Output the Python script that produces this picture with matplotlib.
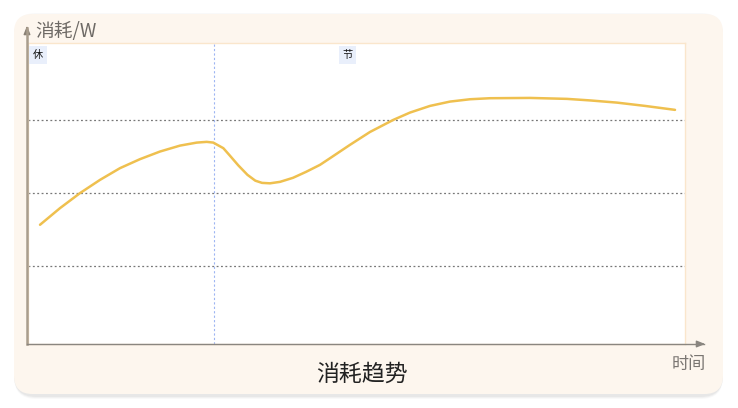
import matplotlib.pyplot as plt
from matplotlib.patches import FancyBboxPatch

plt.rcParams['font.family'] = ['Noto Sans CJK SC', 'DejaVu Sans']

# curve (time in 0..100, consumption in grid units)
t = [1.83, 4.87, 7.91, 10.96, 14.00, 17.05, 20.09, 23.14, 25.68, 27.20, 28.20,
     29.73, 30.75, 32.00, 33.40, 34.60, 35.62, 36.83, 38.36, 40.33, 42.31,
     44.44, 45.97, 49.00, 52.05, 55.60, 58.14, 61.19, 64.23, 67.28, 70.32,
     76.41, 82.04, 85.54, 89.65, 93.91, 98.48]
power = [1.568, 1.795, 2.000, 2.181, 2.341, 2.464, 2.568, 2.649, 2.690, 2.700, 2.690,
         2.614, 2.510, 2.380, 2.250, 2.170, 2.140, 2.134, 2.154, 2.209, 2.290,
         2.386, 2.477, 2.659, 2.835, 3.000, 3.100, 3.191, 3.250, 3.282, 3.296,
         3.300, 3.287, 3.266, 3.236, 3.191, 3.137]
grid_y = [1, 2, 3]
mark_x = 28.3
tags = ["休", "节"]
tag_x = [0.76, 47.9]

W, H = 738, 408
fig = plt.figure(figsize=(W / 100, H / 100), dpi=100)
fig.patch.set_facecolor("white")

# card with soft shadow
for i, a in enumerate([0.025, 0.03, 0.04]):
    d = 3 - i
    fig.patches.append(FancyBboxPatch((14 / W, (14 - d - 2) / H), 709 / W, (380 + 2 * d) / H,
                                      boxstyle="round,pad=0,rounding_size=0.03",
                                      transform=fig.transFigure, fc="#000000", ec="none",
                                      alpha=a, mutation_aspect=W / H, zorder=-3))
fig.patches.append(FancyBboxPatch((14 / W, 14 / H), 709 / W, 380 / H,
                                  boxstyle="round,pad=0,rounding_size=0.025",
                                  transform=fig.transFigure, fc="#fdf6ee", ec="none",
                                  mutation_aspect=W / H, zorder=-2))

ax = fig.add_axes([28 / W, (H - 344) / H, 657 / W, 301 / H])
ax.set_facecolor("white")
ax.set_xlim(0, 100)
ax.set_ylim(-0.06, 4.05)
for s in ax.spines.values():
    s.set_color("#fae6cc")
    s.set_linewidth(1)
ax.set_xticks([])
ax.set_yticks([])

for g in grid_y:
    ax.axhline(g, color="#777777", lw=0.9, ls=(0, (1.5, 2)), zorder=1)
ax.axvline(mark_x, color="#9db5f2", lw=0.8, ls=(0, (2, 2)), zorder=1)

ax.plot(t, power, color="#efc04f", lw=1.8, zorder=3, solid_capstyle="round")

for lab, x in zip(tags, tag_x):
    ax.text(x, 3.955, lab, fontsize=7.3, color="#111111", ha="left", va="top",
            bbox=dict(boxstyle="square,pad=0.35", fc="#e9effb", ec="none"), zorder=4)

# axes arrows
fig.add_artist(plt.Line2D([27 / W, 27 / W], [(H - 344) / H, (H - 28) / H],
                          color="#a99d8d", lw=1.8, zorder=5))
fig.add_artist(plt.Line2D([27 / W, 704 / W], [(H - 344) / H, (H - 344) / H],
                          color="#8a8680", lw=1, zorder=5))
ax.annotate("", xy=(27 / W, (H - 23) / H), xytext=(27 / W, (H - 32) / H),
            xycoords="figure fraction", annotation_clip=False, zorder=6,
            arrowprops=dict(arrowstyle="-|>,head_length=0.5,head_width=0.2",
                            color="#8a8175", lw=1))
ax.annotate("", xy=(708 / W, (H - 344) / H), xytext=(698 / W, (H - 344) / H),
            xycoords="figure fraction", annotation_clip=False, zorder=6,
            arrowprops=dict(arrowstyle="-|>,head_length=0.5,head_width=0.2",
                            color="#8a8680", lw=1))

fig.text(35 / W, (H - 32) / H, "消耗/W", fontsize=13.5, color="#6e6a66",
         ha="left", va="center")
fig.text(706 / W, (H - 364) / H, "时间", fontsize=12.3, color="#7a7672",
         ha="right", va="center")
fig.text(362 / W, (H - 374) / H, "消耗趋势", fontsize=16.5, color="#222222",
         ha="center", va="center")

fig.savefig("out.png", dpi=100)
